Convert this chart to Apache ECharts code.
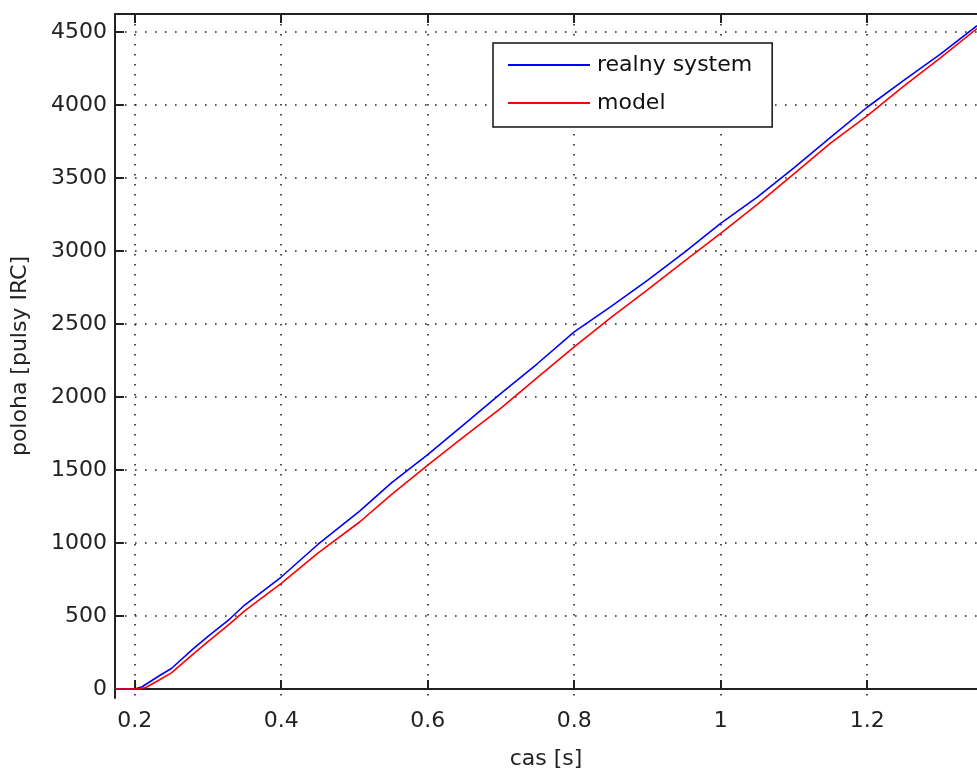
<!DOCTYPE html>
<html>
<head>
<meta charset="utf-8">
<script src="https://cdn.jsdelivr.net/npm/echarts@6/dist/echarts.min.js"></script>
<style>
  html, body { margin: 0; padding: 0; background: #fff; }
  #main { width: 977px; height: 769px; }
</style>
</head>
<body>
<div id="main"></div>
<script>
// values
const timeReal = [0.173, 0.200, 0.210, 0.234, 0.250, 0.280, 0.300, 0.330, 0.350, 0.400, 0.450, 0.507, 0.550, 0.600, 0.650, 0.700, 0.750, 0.800, 0.850, 0.900, 0.950, 1.000, 1.050, 1.100, 1.150, 1.200, 1.250, 1.300, 1.350];
const posReal = [0, 0, 15, 92, 140, 276, 360, 481, 575, 767, 990, 1219, 1410, 1605, 1815, 2025, 2230, 2447, 2620, 2800, 2990, 3190, 3370, 3570, 3780, 3986, 4170, 4350, 4545];

const timeModel = [0.173, 0.205, 0.215, 0.234, 0.250, 0.280, 0.300, 0.330, 0.350, 0.400, 0.450, 0.507, 0.550, 0.600, 0.650, 0.700, 0.750, 0.800, 0.850, 0.900, 0.950, 1.000, 1.050, 1.100, 1.150, 1.200, 1.250, 1.300, 1.350];
const posModel = [0, 0, 10, 63, 110, 241, 325, 447, 535, 724, 930, 1144, 1330, 1533, 1730, 1925, 2135, 2344, 2545, 2735, 2930, 3122, 3320, 3530, 3740, 3927, 4130, 4325, 4525];

const xTicks = [0.2, 0.4, 0.6, 0.8, 1.0, 1.2];
const yTicks = [0, 500, 1000, 1500, 2000, 2500, 3000, 3500, 4000, 4500];

const font = 'DejaVu Sans';
const ink = '#222';

function pairs(xs, ys) {
  return xs.map((x, i) => [x, ys[i]]);
}

const chart = echarts.init(document.getElementById('main'));

const gridDots = { show: true, lineStyle: { color: '#222', width: 1.6, type: [1.6, 8.4] } };
const axisInk = { color: '#222', width: 2 };

chart.setOption({
  animation: false,
  backgroundColor: '#fff',
  grid: { left: 115, right: 0, top: 14, bottom: 71, outerBoundsMode: 'none', containLabel: false },
  legend: {
    orient: 'vertical',
    left: 493,
    top: 43,
    padding: [9, 20, 11, 15],
    itemGap: 12,
    itemWidth: 82,
    itemHeight: 2,
    icon: 'rect',
    borderColor: '#111',
    borderWidth: 1.5,
    backgroundColor: '#fff',
    textStyle: { fontFamily: font, fontSize: 22, color: '#111', lineHeight: 26, padding: [0, 0, 0, 2] },
    data: ['realny system', 'model']
  },
  xAxis: [{
    type: 'value',
    min: 0.173,
    max: 1.35,
    name: 'cas [s]',
    nameLocation: 'middle',
    nameGap: 50,
    nameTextStyle: { fontFamily: font, fontSize: 22, color: ink },
    axisLine: { show: true, lineStyle: axisInk },
    axisTick: { show: true, inside: true, length: 9, customValues: xTicks, lineStyle: axisInk },
    axisLabel: {
      customValues: xTicks,
      margin: 12,
      fontFamily: font, fontSize: 22, color: ink,
      formatter: v => String(+v.toFixed(1))
    },
    splitLine: gridDots
  }, {
    type: 'value',
    position: 'top',
    min: 0.173,
    max: 1.35,
    axisLine: { show: true, lineStyle: axisInk },
    axisTick: { show: true, inside: true, length: 9, customValues: xTicks, lineStyle: axisInk },
    axisLabel: { show: false },
    splitLine: { show: false }
  }],
  yAxis: {
    type: 'value',
    min: -62,
    max: 4625,
    name: 'poloha [pulsy IRC]',
    nameLocation: 'middle',
    nameGap: 84,
    nameTextStyle: { fontFamily: font, fontSize: 22, color: ink },
    axisLine: { show: true, lineStyle: axisInk },
    axisTick: { show: true, inside: true, length: 9, customValues: yTicks, lineStyle: axisInk },
    axisLabel: {
      customValues: yTicks,
      margin: 8,
      fontFamily: font, fontSize: 22, color: ink,
      formatter: v => String(Math.round(v))
    },
    splitLine: gridDots
  },
  series: [{
    name: 'realny system',
    type: 'line',
    data: pairs(timeReal, posReal),
    showSymbol: false,
    symbol: 'none',
    color: '#0000ff',
    lineStyle: { color: '#0000ff', width: 1.6 }
  }, {
    name: 'model',
    type: 'line',
    data: pairs(timeModel, posModel),
    showSymbol: false,
    symbol: 'none',
    color: '#ff0000',
    lineStyle: { color: '#ff0000', width: 1.6 }
  }]
});
</script>
</body>
</html>
